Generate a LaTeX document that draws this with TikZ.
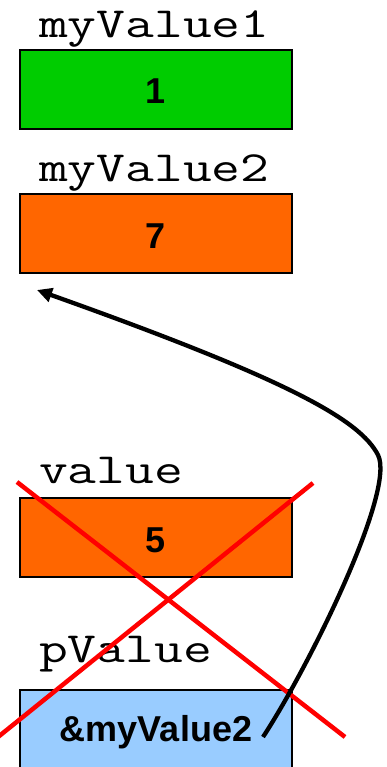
\documentclass[tikz,border=0pt]{standalone}
\usepackage{fontspec}
\usepackage{graphicx}
\setmainfont{Liberation Sans}
\usetikzlibrary{arrows.meta}
\definecolor{valgreen}{HTML}{00CC00}
\definecolor{valorange}{HTML}{FF6600}
\definecolor{ptrblue}{HTML}{99CCFF}
\definecolor{crossred}{HTML}{FF0000}
\tikzset{
  cell/.style={
    draw=black, line width=1.6pt,
    minimum width=272pt, minimum height=79pt,
    inner sep=0pt
  },
  varname/.style={anchor=base west, inner sep=0pt, font=\ttfamily\fontsize{43}{46}\selectfont},
  cellval/.style={anchor=base, inner sep=0pt, font=\bfseries\fontsize{36}{40}\selectfont},
  cross/.style={draw=crossred, line width=4.5pt},
  pointer/.style={draw=black, line width=4.3pt, -{Triangle[length=15pt,width=14pt]}}
}
\newcommand{\wide}[2][1.3]{\scalebox{#1}[1]{#2}}

\begin{document}
\begin{tikzpicture}[x=1pt, y=-1pt]
  \useasboundingbox (0,0) rectangle (386,767);
  \clip (0,0) rectangle (386,767);

  % first variable
  \node[varname] (name1) at (39,38) {\wide{myValue1}};
  \node[cell, fill=valgreen] (box1) at (156,89.5) {};
  \node[cellval] (val1) at (156,104) {1};

  % second variable
  \node[varname] (name2) at (39,182) {\wide{myValue2}};
  \node[cell, fill=valorange] (box2) at (156,233.5) {};
  \node[cellval] (val2) at (156,248) {7};

  % the copy that goes away
  \node[varname] (name3) at (39,483) {\wide{value}};
  \node[cell, fill=valorange] (box3) at (156,537.5) {};
  \node[cellval] (val3) at (156,552) {5};

  % the pointer
  \node[varname] (name4) at (39,662) {\wide{pValue}};
  \node[cell, fill=ptrblue] (box4) at (156,729.5) {};
  \node[cellval] (val4) at (156,741) {\&myValue2};

  % crossed out
  \draw[cross] (17,482) -- (345,737);
  \draw[cross] (313,483) -- (-2,737);

  % pointer arrow back up to myValue2
  \coordinate (tail) at (263,737);
  \coordinate (bend) at (378,455);
  \coordinate (target) at (37,290);
  \draw[pointer] (tail) .. controls (310,665) and (396,490) .. (bend)
    .. controls (360,420) and (290,380) .. (target);
\end{tikzpicture}
\end{document}
